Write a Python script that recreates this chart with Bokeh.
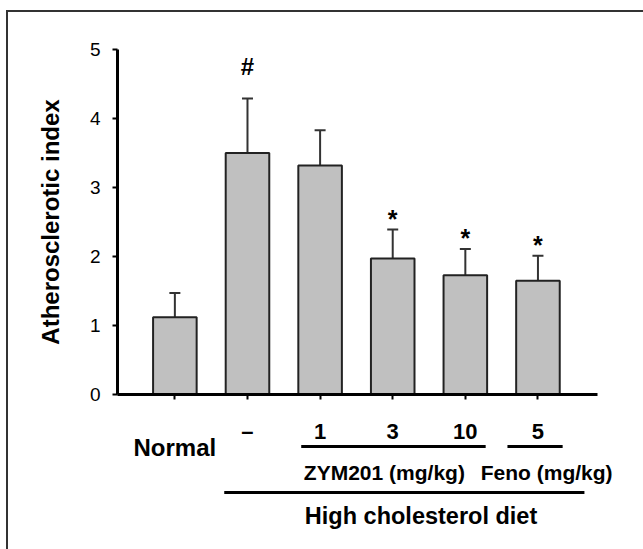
from bokeh.plotting import figure
from bokeh.layouts import column
from bokeh.models import Range1d, FixedTicker, Whisker, TeeHead, ColumnDataSource
from bokeh.core.properties import value
from bokeh.embed import file_html
from bokeh.resources import INLINE

# ---- data ----
groups = ["Normal", "–", "1", "3", "10", "5"]
means = [1.12, 3.50, 3.32, 1.97, 1.73, 1.65]
errors = [0.35, 0.79, 0.51, 0.42, 0.38, 0.36]
marks = ["", "#", "", "*", "*", "*"]
y_ticks = [0, 1, 2, 3, 4, 5]
dose_label_zym = "ZYM201 (mg/kg)"
dose_label_feno = "Feno (mg/kg)"
diet_label = "High cholesterol diet"
y_title = "Atherosclerotic index"

FONT = "Liberation Sans"
idx = list(range(len(groups)))
upper = [m + e for m, e in zip(means, errors)]

# ---- layout geometry (page pixels) ----
OX, OY = 8, 12            # content origin inside the frame border
W = 635
FL, FR, FT, FB = 117, 597, 49, 394   # axis box
P_BOTTOM = 414
PAGE_H = 549
X0, X1 = -0.79, 5.82                 # extent of the x axis line
S = (FR - FL) / (X1 - X0)            # px per category unit
XR = X1 + (OX + W - FR) / S          # frame runs to the right edge

xr = Range1d(X0, XR)
src = ColumnDataSource(dict(x=idx, top=means, upper=upper, mark=marks))

p = figure(width=W, height=P_BOTTOM - OY, output_backend="svg", toolbar_location=None,
           x_range=xr, y_range=Range1d(0, 5),
           min_border_left=FL - OX, min_border_right=0,
           min_border_top=FT - OY, min_border_bottom=P_BOTTOM - FB)
p.outline_line_color = None
p.grid.visible = False
p.background_fill_color = "white"
p.border_fill_color = "white"

p.vbar(x="x", top="top", bottom=0, width=0.6, source=src,
       fill_color="#c0c0c0", line_color="#222222", line_width=2)

w = Whisker(base="x", lower="top", upper="upper", source=src,
            line_color="#333333", line_width=2, lower_head=None,
            upper_head=TeeHead(size=11, line_color="#333333", line_width=2))
p.add_layout(w)

def marks_src(sym):
    sel = [i for i in idx if marks[i] == sym]
    return ColumnDataSource(dict(x=sel, y=[upper[i] for i in sel], t=[sym] * len(sel)))

p.text(x="x", y="y", text="t", source=marks_src("#"), y_offset=-32, text_align="center",
       text_baseline="middle", text_font=value(FONT), text_font_style="bold",
       text_font_size="24px", text_color="black")
p.text(x="x", y="y", text="t", source=marks_src("*"), y_offset=-11, text_align="center",
       text_baseline="middle", text_font=value(FONT), text_font_style="bold",
       text_font_size="25px", text_color="black")

# axes
p.yaxis.ticker = FixedTicker(ticks=y_ticks)
p.yaxis.axis_label = y_title
p.yaxis.axis_label_text_font = FONT
p.yaxis.axis_label_text_font_style = "bold"
p.yaxis.axis_label_text_font_size = "24px"
p.yaxis.axis_label_text_color = "black"
p.yaxis.axis_label_standoff = 23
p.yaxis.major_label_text_font = FONT
p.yaxis.major_label_text_font_size = "19px"
p.yaxis.major_label_text_color = "black"
p.yaxis.major_label_standoff = 12
p.yaxis.major_tick_line_width = 2
p.yaxis.major_tick_in = 0
p.yaxis.major_tick_out = 5
p.yaxis.minor_tick_line_color = None

# x axis: tick marks only (category names are drawn below)
p.xaxis.ticker = FixedTicker(ticks=[], minor_ticks=idx)
p.xaxis.bounds = (X0, X1)
p.xaxis.minor_tick_line_width = 2
p.xaxis.minor_tick_line_color = "black"
p.xaxis.minor_tick_in = 0
p.xaxis.minor_tick_out = 5

for ax in (p.xaxis, p.yaxis):
    ax.axis_line_width = 3
    ax.axis_line_color = "black"
    ax.major_tick_line_color = "black"

# ---- lower panel: category labels and group brackets (same x scale) ----
q = figure(width=W, height=PAGE_H - P_BOTTOM, output_backend="svg", toolbar_location=None,
           x_range=xr, y_range=Range1d(PAGE_H, P_BOTTOM),
           x_axis_location=None, y_axis_location=None,
           min_border_left=FL - OX, min_border_right=0, min_border_top=0, min_border_bottom=0)
q.outline_line_color = None
q.grid.visible = False
q.background_fill_color = "white"
q.border_fill_color = "white"

row1 = ColumnDataSource(dict(x=idx[1:], y=[431] * (len(idx) - 1), t=groups[1:]))
q.text(x="x", y="y", text="t", source=row1, text_align="center", text_baseline="middle",
       text_font=value(FONT), text_font_style="bold", text_font_size="22px", text_color="black")
q.text(x=[idx[0]], y=[446.5], text=[groups[0]], text_align="center", text_baseline="middle",
       text_font=value(FONT), text_font_style="bold", text_font_size="24px", text_color="black")

q.segment(x0=[2 - 0.26, 5 - 0.42, 1 - 0.32], x1=[4 + 0.28, 5 + 0.34, 5 + 0.64],
          y0=[446, 446, 492], y1=[446, 446, 492], line_color="black", line_width=3)

q.text(x=[2.885, 5.12], y=[471.5, 471.5], text=[dose_label_zym, dose_label_feno],
       text_align="center", text_baseline="middle", text_font=value(FONT),
       text_font_style="bold", text_font_size="21px", text_color="black")
q.text(x=[3.39], y=[515.5], text=[diet_label], text_align="center", text_baseline="middle",
       text_font=value(FONT), text_font_style="bold", text_font_size="23.5px", text_color="black")

layout = column(p, q, spacing=0,
                styles={"border-top": "2px solid #333333", "border-left": "2px solid #333333",
                        "margin-top": f"{OY - 2}px", "margin-left": f"{OX - 2}px"})

open("out.html", "w").write(file_html(layout, INLINE))
